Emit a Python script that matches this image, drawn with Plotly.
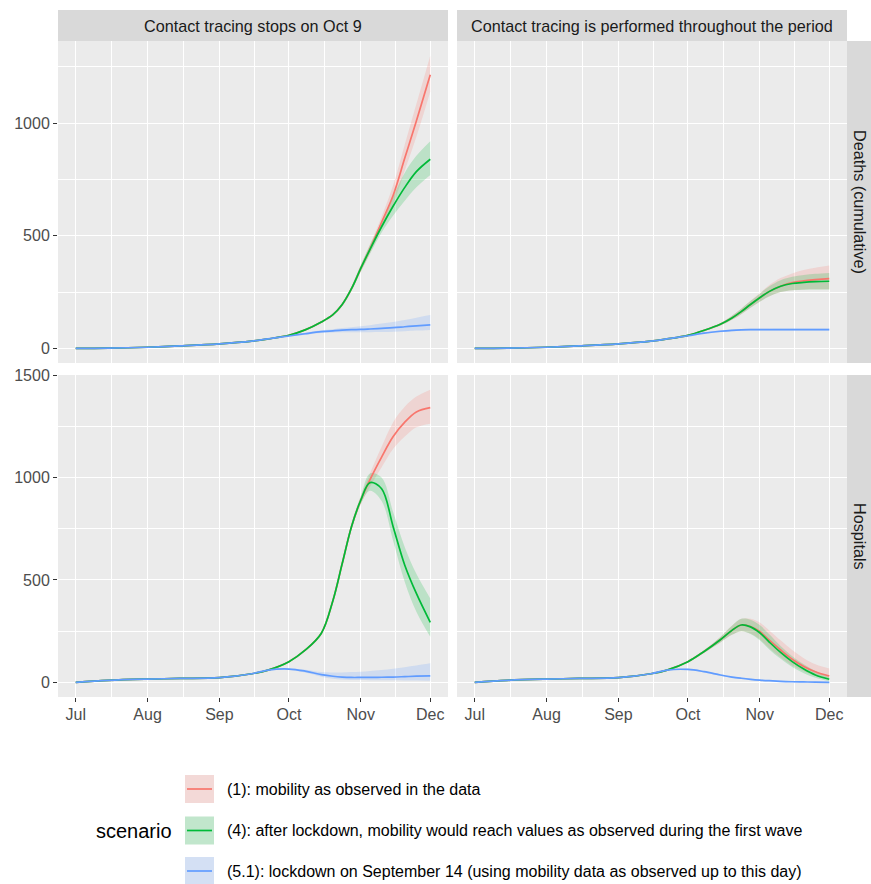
import pandas as pd
import plotly.graph_objects as go

W, H = 871, 884

# ---- data -------------------------------------------------------------
DATES = ["2020-07-01", "2020-07-15", "2020-08-01", "2020-08-15", "2020-09-01",
         "2020-09-15", "2020-09-22", "2020-10-01", "2020-10-08", "2020-10-15",
         "2020-10-20", "2020-10-24", "2020-10-28", "2020-11-01", "2020-11-05",
         "2020-11-10", "2020-11-15", "2020-11-20", "2020-11-25", "2020-12-01"]

MONTH_TICKS = ["2020-07-01", "2020-08-01", "2020-09-01", "2020-10-01", "2020-11-01", "2020-12-01"]
MONTH_LABELS = ["Jul", "Aug", "Sep", "Oct", "Nov", "Dec"]
MINOR_TICKS = ["2020-07-16 12:00", "2020-08-16 12:00", "2020-09-16 00:00",
               "2020-10-16 12:00", "2020-11-16 00:00"]

COLUMNS = ["Contact tracing stops on Oct 9",
           "Contact tracing is performed throughout the period"]
ROWS = ["Deaths (cumulative)", "Hospitals"]

SCENARIOS = ["(1): mobility as observed in the data",
             "(4): after lockdown, mobility would reach values as observed during the first wave",
             "(5.1): lockdown on September 14 (using mobility data as observed up to this day)"]

Y_TICKS = [0, 500, 1000, 1500]
Y_MINOR = [250, 750, 1250]

# Deaths (cumulative) -- contact tracing stops on Oct 9
DS_S1 = [0, 1, 5, 11, 20, 32, 42, 58, 82, 117, 150, 195, 265, 355, 442, 560, 680, 845, 1010, 1215]
DS_S1_LO = [0, 1, 5, 11, 20, 31, 41, 56, 79, 113, 145, 188, 255, 340, 422, 535, 640, 790, 940, 1140]
DS_S1_HI = [0, 1, 5, 11, 20, 33, 43, 60, 85, 121, 155, 202, 275, 370, 462, 585, 725, 905, 1085, 1300]
DS_S4 = [0, 1, 5, 11, 20, 32, 42, 58, 82, 117, 150, 195, 265, 355, 440, 540, 632, 715, 785, 840]
DS_S4_LO = [0, 1, 5, 11, 20, 31, 41, 56, 79, 113, 145, 188, 255, 340, 420, 515, 590, 655, 715, 770]
DS_S4_HI = [0, 1, 5, 11, 20, 33, 43, 60, 85, 121, 155, 202, 275, 370, 460, 565, 675, 780, 855, 920]
DS_S51 = [0, 1, 5, 11, 20, 32, 42, 55, 65, 74, 78, 81, 83, 84, 86, 89, 92, 96, 100, 104]
DS_S51_LO = [0, 1, 5, 11, 20, 31, 41, 53, 61, 68, 71, 72, 72, 72, 72, 73, 74, 76, 79, 82]
DS_S51_HI = [0, 1, 5, 11, 20, 33, 43, 57, 69, 80, 85, 90, 94, 98, 103, 110, 117, 126, 136, 148]

# Deaths (cumulative) -- contact tracing throughout
DT_S1 = [0, 1, 5, 11, 20, 32, 42, 58, 80, 107, 135, 163, 195, 225, 252, 276, 292, 300, 305, 310]
DT_S1_LO = [0, 1, 5, 11, 20, 31, 41, 56, 77, 102, 127, 152, 180, 207, 230, 250, 258, 261, 262, 262]
DT_S1_HI = [0, 1, 5, 11, 20, 33, 43, 60, 83, 112, 145, 176, 212, 245, 280, 312, 333, 348, 358, 368]
DT_S4 = [0, 1, 5, 11, 20, 32, 42, 58, 80, 107, 135, 163, 195, 225, 252, 276, 288, 293, 296, 298]
DT_S4_LO = [0, 1, 5, 11, 20, 31, 41, 56, 77, 102, 127, 152, 180, 207, 230, 250, 258, 260, 261, 261]
DT_S4_HI = [0, 1, 5, 11, 20, 33, 43, 60, 83, 112, 145, 176, 210, 243, 275, 303, 318, 326, 331, 335]
DT_S51 = [0, 1, 5, 11, 20, 32, 42, 56, 68, 76, 80, 82, 83, 83, 83, 83, 83, 83, 83, 83]
DT_S51_LO = [0, 1, 5, 11, 20, 31, 41, 54, 65, 72, 76, 78, 79, 79, 79, 79, 79, 79, 79, 79]
DT_S51_HI = [0, 1, 5, 11, 20, 33, 43, 58, 71, 80, 84, 86, 87, 87, 87, 88, 88, 88, 88, 88]

# Hospitals -- contact tracing stops on Oct 9
HS_S1 = [0, 10, 16, 19, 23, 42, 60, 101, 157, 240, 400, 580, 760, 889, 990, 1100, 1200, 1270, 1320, 1341]
HS_S1_LO = [0, 9, 15, 18, 22, 40, 58, 98, 153, 234, 390, 568, 745, 870, 955, 1050, 1140, 1200, 1245, 1263]
HS_S1_HI = [0, 11, 17, 20, 24, 44, 62, 104, 161, 246, 410, 592, 775, 908, 1020, 1150, 1270, 1345, 1395, 1429]
HS_S4 = [0, 10, 16, 19, 23, 42, 60, 101, 157, 240, 400, 580, 760, 889, 975, 945, 759, 572, 434, 293]
HS_S4_LO = [0, 9, 15, 18, 22, 40, 58, 98, 153, 234, 390, 568, 745, 870, 935, 885, 690, 490, 345, 223]
HS_S4_HI = [0, 11, 17, 20, 24, 44, 62, 104, 161, 246, 410, 592, 775, 908, 1020, 1000, 830, 660, 530, 410]
HS_S51 = [0, 10, 16, 19, 23, 42, 60, 65, 55, 38, 30, 26, 24, 24, 24, 25, 26, 28, 30, 32]
HS_S51_LO = [0, 9, 15, 18, 22, 40, 58, 62, 48, 28, 18, 14, 12, 11, 10, 10, 10, 9, 9, 8]
HS_S51_HI = [0, 11, 17, 20, 24, 44, 62, 68, 62, 50, 48, 48, 50, 52, 56, 60, 66, 74, 82, 93]

# Hospitals -- contact tracing throughout
HT_S1 = [0, 10, 16, 19, 23, 42, 60, 101, 151, 208, 254, 280, 273, 248, 207, 158, 113, 78, 52, 31]
HT_S1_LO = [0, 9, 15, 18, 22, 40, 58, 98, 145, 195, 232, 250, 238, 210, 168, 122, 82, 54, 32, 16]
HT_S1_HI = [0, 11, 17, 20, 24, 44, 62, 104, 158, 222, 276, 310, 310, 292, 255, 205, 158, 118, 88, 68]
HT_S4 = [0, 10, 16, 19, 23, 42, 60, 101, 151, 208, 254, 280, 271, 242, 198, 146, 101, 65, 36, 15]
HT_S4_LO = [0, 9, 15, 18, 22, 40, 58, 98, 145, 195, 232, 250, 236, 205, 162, 115, 75, 45, 22, 5]
HT_S4_HI = [0, 11, 17, 20, 24, 44, 62, 104, 158, 222, 276, 310, 306, 280, 236, 178, 128, 88, 55, 28]
HT_S51 = [0, 10, 16, 19, 23, 42, 60, 63, 52, 36, 26, 20, 15, 11, 8, 5, 3, 2, 1, 0]
HT_S51_LO = [0, 9, 15, 18, 22, 40, 58, 60, 48, 32, 22, 16, 11, 8, 5, 3, 1, 0, 0, 0]
HT_S51_HI = [0, 11, 17, 20, 24, 44, 62, 66, 56, 40, 30, 24, 19, 14, 11, 8, 5, 4, 3, 2]

# ---- styling -----------------------------------------------------------
LINE_COLORS = ["#F8766D", "#00BA38", "#619CFF"]
BAND_COLORS = ["rgba(248,118,109,0.2)", "rgba(0,186,56,0.2)", "rgba(97,156,255,0.2)"]
KEY_BG = "#F2F2F2"
PANEL_BG = "#EBEBEB"
STRIP_BG = "#D9D9D9"
FONT = "Liberation Sans, Arial, Helvetica, sans-serif"

COL_PX = [(58, 448), (457, 847)]
ROW_PX = [(41, 363), (375, 697)]
TOP_STRIP = (10, 41)
RIGHT_STRIP = (847, 871)


def fx(px):
    return px / W


def fy(py):
    return 1 - py / H


# panel -> (row, col, [(mean, lo, hi) per scenario])
PANELS = [
    (0, 0, [(DS_S1, DS_S1_LO, DS_S1_HI), (DS_S4, DS_S4_LO, DS_S4_HI), (DS_S51, DS_S51_LO, DS_S51_HI)]),
    (0, 1, [(DT_S1, DT_S1_LO, DT_S1_HI), (DT_S4, DT_S4_LO, DT_S4_HI), (DT_S51, DT_S51_LO, DT_S51_HI)]),
    (1, 0, [(HS_S1, HS_S1_LO, HS_S1_HI), (HS_S4, HS_S4_LO, HS_S4_HI), (HS_S51, HS_S51_LO, HS_S51_HI)]),
    (1, 1, [(HT_S1, HT_S1_LO, HT_S1_HI), (HT_S4, HT_S4_LO, HT_S4_HI), (HT_S51, HT_S51_LO, HT_S51_HI)]),
]

fig = go.Figure()

# ribbons first, then lines on top
for r, c, series in PANELS:
    idx = r * 2 + c + 1
    xa = "x" if idx == 1 else f"x{idx}"
    ya = "y" if idx == 1 else f"y{idx}"
    for k, (mean, lo, hi) in enumerate(series):
        fig.add_trace(go.Scatter(x=DATES, y=hi, xaxis=xa, yaxis=ya, mode="lines",
                                 line=dict(width=0, shape="spline", color=LINE_COLORS[k]),
                                 showlegend=False, hoverinfo="skip"))
        fig.add_trace(go.Scatter(x=DATES, y=lo, xaxis=xa, yaxis=ya, mode="lines",
                                 line=dict(width=0, shape="spline", color=LINE_COLORS[k]),
                                 fill="tonexty", fillcolor=BAND_COLORS[k],
                                 showlegend=False, hoverinfo="skip"))
for r, c, series in PANELS:
    idx = r * 2 + c + 1
    xa = "x" if idx == 1 else f"x{idx}"
    ya = "y" if idx == 1 else f"y{idx}"
    for k, (mean, lo, hi) in enumerate(series):
        fig.add_trace(go.Scatter(x=DATES, y=mean, xaxis=xa, yaxis=ya, mode="lines",
                                 line=dict(width=1.7, shape="spline", color=LINE_COLORS[k]),
                                 name=SCENARIOS[k], showlegend=False))

# scales: 5% expansion like ggplot
start, end = pd.Timestamp(DATES[0]), pd.Timestamp(DATES[-1])
pad = (end - start) * 0.05
x_range = [(start - pad).strftime("%Y-%m-%d %H:%M:%S"), (end + pad).strftime("%Y-%m-%d %H:%M:%S")]

row_ranges = []
for row in range(2):
    vals = []
    for r, c, series in PANELS:
        if r == row:
            for mean, lo, hi in series:
                vals += lo + hi
    lo_v, hi_v = min(vals), max(vals)
    p = (hi_v - lo_v) * 0.05
    row_ranges.append([lo_v - p, hi_v + p])

tick_font = dict(family=FONT, size=16, color="#4D4D4D")
layout = dict(width=W, height=H, autosize=False,
              margin=dict(l=0, r=0, t=0, b=0, pad=0, autoexpand=False),
              paper_bgcolor="white", plot_bgcolor=PANEL_BG,
              showlegend=False, font=dict(family=FONT))

for r, c, _ in PANELS:
    idx = r * 2 + c + 1
    sx = "" if idx == 1 else str(idx)
    bottom = r == 1
    left = c == 0
    layout[f"xaxis{sx}"] = dict(
        domain=[fx(COL_PX[c][0]), fx(COL_PX[c][1])], anchor=f"y{sx}",
        type="date", range=x_range, tickmode="array",
        tickvals=MONTH_TICKS, ticktext=MONTH_LABELS, automargin=False,
        showgrid=True, gridcolor="white", gridwidth=1.4, zeroline=False, showline=False,
        ticks="outside" if bottom else "", ticklen=4, tickwidth=1.1, tickcolor="#333333",
        showticklabels=bottom, tickfont=tick_font, ticklabelstandoff=-1,
        minor=dict(tickmode="array", tickvals=MINOR_TICKS, showgrid=True,
                   gridcolor="white", gridwidth=0.7, ticks=""),
    )
    layout[f"yaxis{sx}"] = dict(
        domain=[fy(ROW_PX[r][1]), fy(ROW_PX[r][0])], anchor=f"x{sx}",
        range=row_ranges[r], tickmode="array", tickvals=Y_TICKS,
        ticktext=[str(v) for v in Y_TICKS], automargin=False,
        showgrid=True, gridcolor="white", gridwidth=1.4, zeroline=False, showline=False,
        ticks="outside" if left else "", ticklen=4, tickwidth=1.1, tickcolor="#333333",
        showticklabels=left, tickfont=tick_font,
        minor=dict(tickmode="array", tickvals=Y_MINOR, showgrid=True,
                   gridcolor="white", gridwidth=0.7, ticks=""),
    )

shapes = []
annotations = []
strip_font = dict(family=FONT, size=16.2, color="#1A1A1A")

# facet strips
for c, label in enumerate(COLUMNS):
    x0, x1 = COL_PX[c]
    shapes.append(dict(type="rect", xref="paper", yref="paper", x0=fx(x0), x1=fx(x1),
                       y0=fy(TOP_STRIP[1]), y1=fy(TOP_STRIP[0]),
                       fillcolor=STRIP_BG, line=dict(width=0), layer="below"))
    annotations.append(dict(text=label, xref="paper", yref="paper",
                            x=fx((x0 + x1) / 2), y=fy(sum(TOP_STRIP) / 2),
                            xanchor="center", yanchor="middle", showarrow=False, font=strip_font))
for r, label in enumerate(ROWS):
    y0, y1 = ROW_PX[r]
    shapes.append(dict(type="rect", xref="paper", yref="paper",
                       x0=fx(RIGHT_STRIP[0]), x1=fx(RIGHT_STRIP[1]) + 0.01,
                       y0=fy(y1), y1=fy(y0),
                       fillcolor=STRIP_BG, line=dict(width=0), layer="below"))
    annotations.append(dict(text=label, xref="paper", yref="paper",
                            x=fx(sum(RIGHT_STRIP) / 2 + 1), y=fy((y0 + y1) / 2),
                            xanchor="center", yanchor="middle", textangle=90,
                            showarrow=False, font=strip_font))

# legend guide at the bottom
LEG_ROWS = [789, 830.5, 871]
KEY_X = (185, 214)
KEY_H = 28
legend_font = dict(family=FONT, size=16, color="#000000")
for k, text in enumerate(SCENARIOS):
    cy = LEG_ROWS[k]
    for fill in (KEY_BG, BAND_COLORS[k]):
        shapes.append(dict(type="rect", xref="paper", yref="paper",
                           x0=fx(KEY_X[0]), x1=fx(KEY_X[1]),
                           y0=fy(cy + KEY_H / 2), y1=fy(cy - KEY_H / 2),
                           fillcolor=fill, line=dict(width=0)))
    shapes.append(dict(type="line", xref="paper", yref="paper",
                       x0=fx(KEY_X[0] + 2), x1=fx(KEY_X[1] - 2), y0=fy(cy), y1=fy(cy),
                       line=dict(color=LINE_COLORS[k], width=1.7)))
    annotations.append(dict(text=text, xref="paper", yref="paper",
                            x=fx(225), y=fy(cy), xanchor="left", yanchor="middle",
                            showarrow=False, font=legend_font))
annotations.append(dict(text="scenario", xref="paper", yref="paper",
                        x=fx(174), y=fy(LEG_ROWS[1]), xanchor="right", yanchor="middle",
                        showarrow=False, font=dict(family=FONT, size=20, color="#000000")))

layout["shapes"] = shapes
layout["annotations"] = annotations
fig.update_layout(**layout)

fig.write_html("out.html")
